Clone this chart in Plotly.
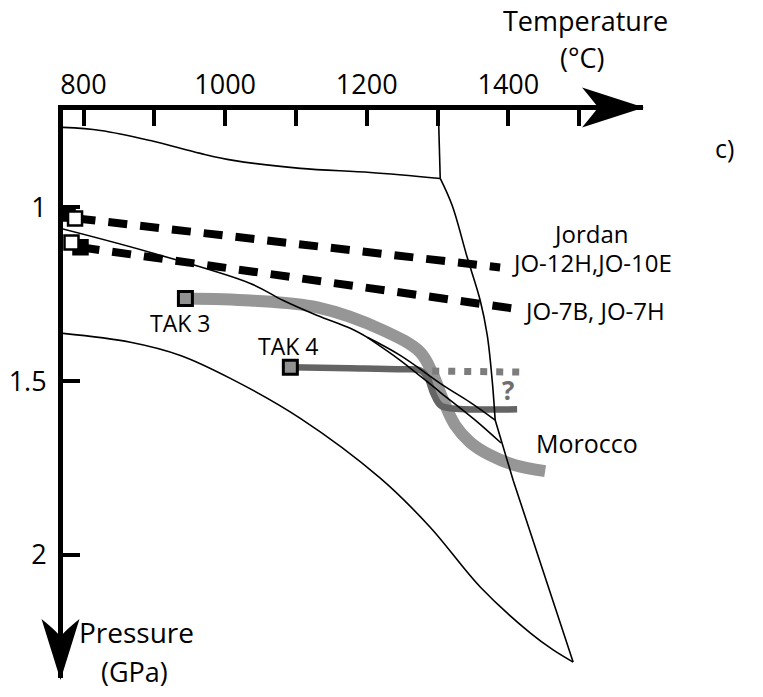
import plotly.graph_objects as go

# ---------------- data ----------------
temp_ticks = [800, 900, 1000, 1100, 1200, 1300, 1400, 1500]
temp_ticktext = ["800", "", "1000", "", "1200", "", "1400", ""]
p_ticks = [1, 1.5, 2]
p_ticktext = ["1", "1.5", "2"]

# phase-boundary curves (T in °C, P in GPa)
curveA_T = [768.0, 824.0, 894.5, 965.1, 1011.6, 1106.2, 1205.0, 1303.8]
curveA_P = [0.770, 0.779, 0.808, 0.845, 0.865, 0.888, 0.900, 0.917]

curveBtop_T = [1301.0, 1303.8]
curveBtop_P = [0.713, 0.917]
curveBmid_T = [1303.8, 1320.7, 1341.9, 1360.3, 1370.2, 1377.2, 1381.4]
curveBmid_P = [0.917, 0.995, 1.144, 1.268, 1.368, 1.498, 1.612]
curveBlow_T = [1381.4, 1406.8, 1491.5]
curveBlow_P = [1.612, 1.785, 2.308]

curveC_T = [768.0, 894.5, 1035.6, 1082.2, 1130.2, 1176.8, 1200.8]
curveC_P = [1.061, 1.130, 1.219, 1.268, 1.311, 1.348, 1.374]
curveC1_T = [1200.8, 1247.3, 1308.0, 1346.1, 1381.4]
curveC1_P = [1.374, 1.426, 1.512, 1.561, 1.612]
curveC2_T = [1200.8, 1247.3, 1303.8, 1353.2, 1389.8]
curveC2_P = [1.374, 1.440, 1.532, 1.612, 1.678]

curveD_T = [767.5, 866.3, 936.8, 1007.4, 1106.2, 1219.1, 1289.6, 1360.3, 1430.8, 1463.3, 1491.5]
curveD_P = [1.362, 1.388, 1.426, 1.492, 1.607, 1.779, 1.920, 2.092, 2.224, 2.273, 2.308]

# Jordan samples (dashed)
jo12_T = [790.1, 1388.4]
jo12_P = [1.032, 1.173]
jo7_T = [795.7, 1413.8]
jo7_P = [1.115, 1.293]
jo_back_T = [777.4, 795.7]
jo_back_P = [1.018, 1.115]
jo_front_T = [788.0, 783.0]
jo_front_P = [1.032, 1.101]

# Morocco samples
tak3_T = [943.9, 1035.6, 1130.2, 1223.3, 1275.5, 1293.9, 1308.0, 1324.9, 1346.1, 1374.3, 1409.6, 1452.0]
tak3_P = [1.262, 1.268, 1.288, 1.354, 1.417, 1.483, 1.555, 1.627, 1.676, 1.713, 1.742, 1.759]
tak4_T = [1092.1, 1176.8, 1247.3, 1275.5, 1285.4, 1293.9, 1303.8, 1317.9, 1412.4]
tak4_P = [1.460, 1.463, 1.466, 1.469, 1.489, 1.535, 1.569, 1.578, 1.581]
tak4_alt_T = [1292.5, 1416.7]
tak4_alt_P = [1.471, 1.474]
tak_sq_T = [943.9, 1092.1]
tak_sq_P = [1.262, 1.460]

X_RANGE = [771.0, 1590.2]
Y_RANGE = [2.3538, 0.7202]

FONT = "Open Sans"
fig = go.Figure()

def thin(T, P, shape="spline"):
    fig.add_trace(go.Scatter(x=T, y=P, mode="lines",
                             line=dict(color="black", width=1.6, shape=shape),
                             hoverinfo="skip", showlegend=False))

# Morocco thick bands
fig.add_trace(go.Scatter(x=tak3_T, y=tak3_P, mode="lines",
                         line=dict(color="rgb(150,150,150)", width=12, shape="spline"),
                         showlegend=False))
fig.add_trace(go.Scatter(x=tak4_alt_T, y=tak4_alt_P, mode="lines",
                         line=dict(color="rgb(125,125,125)", width=7, dash="7px,9px"),
                         showlegend=False))
fig.add_trace(go.Scatter(x=tak4_T, y=tak4_P, mode="lines",
                         line=dict(color="rgb(100,100,100)", width=6.5, shape="spline"),
                         showlegend=False))

thin(curveA_T, curveA_P)
thin(curveBtop_T, curveBtop_P, "linear")
thin(curveBmid_T, curveBmid_P)
thin(curveBlow_T, curveBlow_P, "linear")
thin(curveC_T, curveC_P)
thin(curveC1_T, curveC1_P)
thin(curveC2_T, curveC2_P)
thin(curveD_T, curveD_P)

# Jordan dashed lines
for T, P in [(jo12_T, jo12_P), (jo7_T, jo7_P)]:
    fig.add_trace(go.Scatter(x=T, y=P, mode="lines",
                             line=dict(color="black", width=8, dash="19px,13px"),
                             showlegend=False))

# squares
fig.add_trace(go.Scatter(x=jo_back_T, y=jo_back_P, mode="markers",
                         marker=dict(symbol="square", size=14, color="black",
                                     line=dict(color="black", width=2.5)),
                         showlegend=False))
fig.add_trace(go.Scatter(x=jo_front_T, y=jo_front_P, mode="markers",
                         marker=dict(symbol="square", size=14, color="white",
                                     line=dict(color="black", width=2.5)),
                         showlegend=False))
fig.add_trace(go.Scatter(x=tak_sq_T, y=tak_sq_P, mode="markers",
                         marker=dict(symbol="square", size=14, color="rgb(145,145,145)",
                                     line=dict(color="black", width=3)),
                         showlegend=False))

# page-pixel -> paper helpers (page has an 8px body margin)
X0, X1 = 62.5, 643.0
Y0, Y1 = 109.5, 678.0
def px(x):
    return (x - X0) / (X1 - X0)
def py(y):
    return (Y1 - y) / (Y1 - Y0)

xa = f"M {px(644)},{py(107)} L {px(582)},{py(87)} Q {px(596)},{py(104)} {px(598)},{py(107)} Q {px(596)},{py(110)} {px(582)},{py(127)} Z"
ya = f"M {px(60)},{py(680)} L {px(41)},{py(619)} Q {px(57)},{py(632)} {px(60)},{py(637)} Q {px(63)},{py(632)} {px(79)},{py(619)} Z"
shapes = [dict(type="path", path=xa, xref="paper", yref="paper",
               fillcolor="black", line=dict(width=0)),
          dict(type="path", path=ya, xref="paper", yref="paper",
               fillcolor="black", line=dict(width=0))]

ann = []
def A(text, x, y, size=24, xref="x", yref="y", color="black", bold=False, xanchor="center"):
    t = f"<b>{text}</b>" if bold else text
    ann.append(dict(text=t, x=x, y=y, xref=xref, yref=yref, showarrow=False,
                    xanchor=xanchor, yanchor="middle",
                    font=dict(family=FONT, size=size, color=color)))

A("Jordan", 1515.5, 1.076)
A("JO-12H,JO-10E", 1518.3, 1.160, size=24)
A("JO-7B, JO-7H", 1521.1, 1.296, size=24)
A("TAK 3", 936.8, 1.334, size=23)
A("TAK 4", 1089.3, 1.400, size=23)
A("Morocco", 1511.2, 1.678, size=25)
A("?", 1399.7, 1.526, size=26, color="rgb(110,110,110)", bold=True)
A("Temperature", px(585), py(20), size=27, xref="paper", yref="paper")
A("(°C)", px(582), py(57), size=27, xref="paper", yref="paper")
A("c)", px(725), py(148), size=25, xref="paper", yref="paper")
A("Pressure", px(136), py(632), size=28, xref="paper", yref="paper")
A("(GPa)", px(134), py(671), size=27, xref="paper", yref="paper")

fig.update_layout(
    width=755, height=689,
    margin=dict(l=54.5, r=120, t=101.5, b=19),
    paper_bgcolor="white", plot_bgcolor="white",
    font=dict(family=FONT, color="black"),
    shapes=shapes, annotations=ann,
    xaxis=dict(range=X_RANGE, side="top", showgrid=False, zeroline=False,
               automargin=False,
               showline=True, linewidth=5, linecolor="black",
               ticks="inside", ticklen=16, tickwidth=4, tickcolor="black",
               tickvals=temp_ticks, ticktext=temp_ticktext,
               tickfont=dict(family=FONT, size=27), ticklabelstandoff=0),
    yaxis=dict(range=Y_RANGE, showgrid=False, zeroline=False,
               automargin=False,
               showline=True, linewidth=5, linecolor="black",
               ticks="inside", ticklen=17, tickwidth=4, tickcolor="black",
               tickvals=p_ticks, ticktext=p_ticktext,
               tickfont=dict(family=FONT, size=27), ticklabelstandoff=6),
)

fig.write_html("out.html")
